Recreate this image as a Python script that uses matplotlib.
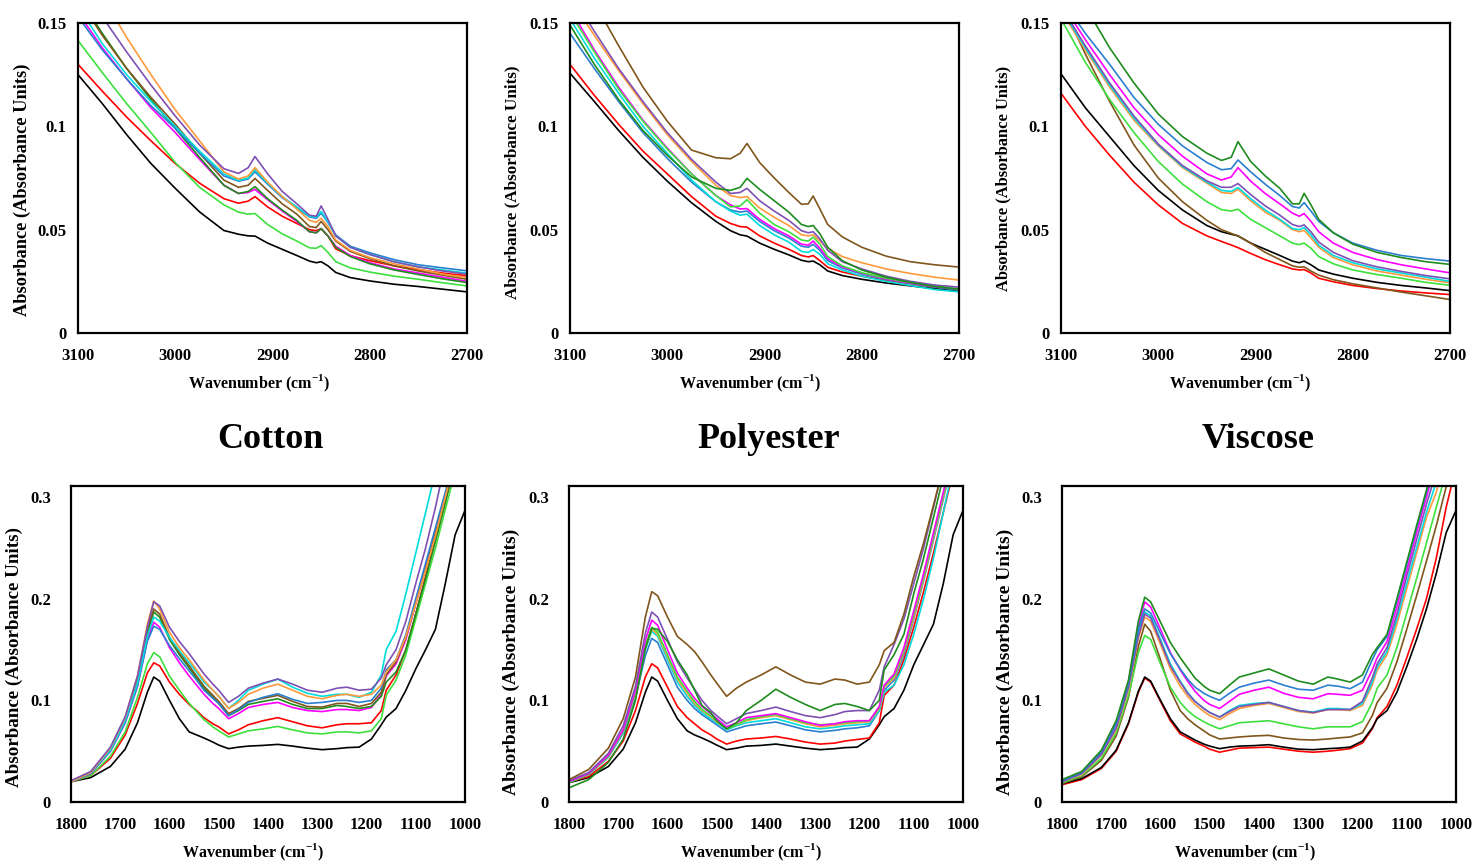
import matplotlib
matplotlib.use('Agg')
import matplotlib.pyplot as plt

plt.rcParams['font.family'] = ['Liberation Serif', 'DejaVu Serif']
plt.rcParams['font.weight'] = 'bold'
plt.rcParams['mathtext.fontset'] = 'custom'
plt.rcParams['mathtext.rm'] = 'Liberation Serif:bold'
plt.rcParams['mathtext.bf'] = 'Liberation Serif:bold'

# ---------------- data ----------------
W_TOP = [3100, 3075, 3050, 3025, 3000, 2975, 2950, 2935, 2925, 2918, 2905, 2890,
         2875, 2862, 2855, 2850, 2843, 2835, 2820, 2800, 2775, 2750, 2725, 2700]
W_BOT = [1800, 1760, 1720, 1690, 1665, 1645, 1632, 1620, 1600, 1580, 1560, 1545,
         1530, 1512, 1500, 1480, 1460, 1440, 1410, 1380, 1350, 1320, 1290, 1260,
         1240, 1215, 1190, 1170, 1160, 1140, 1120, 1100, 1080, 1060, 1040, 1020, 1000]

TOP_TICKS = [3100, 3000, 2900, 2800, 2700]
BOT_TICKS = [1800, 1700, 1600, 1500, 1400, 1300, 1200, 1100, 1000]
TOP_YTICKS = [0, 0.05, 0.1, 0.15]
TOP_YLABELS = ['0', '0.05', '0.1', '0.15']
BOT_YTICKS = [0, 0.1, 0.2, 0.3]
BOT_YLABELS = ['0', '0.1', '0.2', '0.3']
TITLES = ['Cotton', 'Polyester', 'Viscose']

COLORS = {'black': '#000000', 'red': '#ff0000', 'lime': '#3ee03e', 'dkgreen': '#1e8c1e',
          'orange': '#ff9a3c', 'blue': '#2b7fd0', 'purple': '#7e50b4', 'magenta': '#ff00ff',
          'cyan': '#00dcdc', 'brown': '#80561c'}

# Cotton, 3100-2700
ct_black = [0.125, 0.111, 0.096, 0.082, 0.070, 0.0586, 0.0496, 0.0478, 0.0470, 0.0469, 0.0435, 0.0405, 0.0375, 0.0348, 0.0340, 0.0345, 0.0325, 0.0293, 0.0268, 0.0252, 0.0236, 0.0225, 0.0212, 0.0199]
ct_red = [0.130, 0.117, 0.1045, 0.093, 0.082, 0.0725, 0.065, 0.0628, 0.0638, 0.0660, 0.061, 0.0565, 0.053, 0.050, 0.0495, 0.0505, 0.047, 0.0407, 0.0374, 0.035, 0.0325, 0.0306, 0.029, 0.0277]
ct_lime = [0.1415, 0.126, 0.111, 0.097, 0.0825, 0.0705, 0.062, 0.0585, 0.0575, 0.0578, 0.0525, 0.048, 0.0445, 0.0412, 0.0410, 0.0423, 0.039, 0.0345, 0.0315, 0.0295, 0.0275, 0.026, 0.0243, 0.0228]
ct_purple = [0.172, 0.153, 0.136, 0.120, 0.105, 0.091, 0.0795, 0.0772, 0.0800, 0.0854, 0.077, 0.0685, 0.0625, 0.057, 0.0565, 0.0615, 0.055, 0.047, 0.0415, 0.038, 0.0345, 0.032, 0.030, 0.0285]
ct_orange = [0.185, 0.163, 0.143, 0.125, 0.108, 0.093, 0.078, 0.0745, 0.076, 0.080, 0.073, 0.066, 0.060, 0.0545, 0.0535, 0.0555, 0.0515, 0.045, 0.040, 0.0365, 0.0335, 0.031, 0.0285, 0.0268]
ct_cyan = [0.158, 0.140, 0.125, 0.112, 0.100, 0.088, 0.077, 0.0738, 0.075, 0.079, 0.0725, 0.066, 0.061, 0.0565, 0.0560, 0.0588, 0.054, 0.047, 0.0415, 0.038, 0.0345, 0.0320, 0.0305, 0.029]
ct_blue = [0.153, 0.137, 0.123, 0.110, 0.099, 0.087, 0.076, 0.0735, 0.0745, 0.078, 0.072, 0.0655, 0.0605, 0.0562, 0.0555, 0.058, 0.0535, 0.0475, 0.042, 0.0388, 0.0355, 0.033, 0.0315, 0.0301]
ct_brown = [0.162, 0.144, 0.128, 0.114, 0.101, 0.087, 0.074, 0.0705, 0.0715, 0.0748, 0.069, 0.0625, 0.0575, 0.0515, 0.0510, 0.0540, 0.050, 0.0445, 0.0395, 0.036, 0.0325, 0.030, 0.028, 0.026]
ct_dkgreen = [0.163, 0.145, 0.128, 0.113, 0.099, 0.085, 0.0715, 0.0675, 0.0685, 0.0708, 0.065, 0.0595, 0.0545, 0.049, 0.0485, 0.0505, 0.047, 0.0415, 0.037, 0.0335, 0.0305, 0.0283, 0.0262, 0.0244]
ct_magenta = [0.155, 0.138, 0.123, 0.109, 0.097, 0.084, 0.0715, 0.0675, 0.068, 0.0695, 0.0645, 0.059, 0.054, 0.049, 0.0485, 0.0505, 0.047, 0.042, 0.0375, 0.034, 0.031, 0.029, 0.027, 0.025]

# Polyester, 3100-2700
pt_black = [0.1257, 0.112, 0.098, 0.085, 0.0735, 0.063, 0.054, 0.0495, 0.0475, 0.0469, 0.0435, 0.0405, 0.0378, 0.0352, 0.0345, 0.0348, 0.033, 0.030, 0.0278, 0.026, 0.0242, 0.0228, 0.0215, 0.0202]
pt_red = [0.130, 0.115, 0.101, 0.088, 0.077, 0.066, 0.0565, 0.0530, 0.0515, 0.0512, 0.0470, 0.0435, 0.0405, 0.0375, 0.0368, 0.0375, 0.035, 0.0318, 0.0295, 0.0275, 0.0255, 0.0238, 0.0222, 0.021]
pt_blue = [0.145, 0.128, 0.112, 0.097, 0.0845, 0.073, 0.0635, 0.0595, 0.0585, 0.059, 0.054, 0.0495, 0.046, 0.042, 0.0415, 0.0429, 0.040, 0.035, 0.0315, 0.0285, 0.026, 0.024, 0.0222, 0.0208]
pt_cyan = [0.152, 0.133, 0.116, 0.100, 0.087, 0.074, 0.0635, 0.059, 0.057, 0.0575, 0.052, 0.0475, 0.044, 0.0395, 0.039, 0.0404, 0.038, 0.0335, 0.0305, 0.0275, 0.025, 0.023, 0.021, 0.0199]
pt_magenta = [0.157, 0.137, 0.119, 0.103, 0.0895, 0.077, 0.0665, 0.062, 0.060, 0.0602, 0.055, 0.0505, 0.047, 0.043, 0.0425, 0.0445, 0.041, 0.036, 0.032, 0.029, 0.0262, 0.0242, 0.0225, 0.0213]
pt_lime = [0.155, 0.136, 0.118, 0.1025, 0.089, 0.077, 0.0665, 0.061, 0.0615, 0.0645, 0.058, 0.0525, 0.049, 0.045, 0.0445, 0.0464, 0.043, 0.037, 0.0325, 0.0292, 0.0265, 0.0245, 0.0228, 0.0213]
pt_dkgreen = [0.149, 0.130, 0.113, 0.098, 0.086, 0.0755, 0.0700, 0.0690, 0.0705, 0.0748, 0.0695, 0.064, 0.0585, 0.0525, 0.0515, 0.0520, 0.048, 0.0415, 0.035, 0.0305, 0.027, 0.0245, 0.0225, 0.0212]
pt_purple = [0.165, 0.146, 0.128, 0.112, 0.097, 0.084, 0.073, 0.0675, 0.068, 0.070, 0.064, 0.059, 0.0545, 0.0495, 0.0485, 0.049, 0.0455, 0.040, 0.0345, 0.031, 0.0275, 0.025, 0.0232, 0.0222]
pt_orange = [0.162, 0.144, 0.127, 0.111, 0.096, 0.083, 0.0715, 0.0665, 0.0655, 0.0660, 0.0605, 0.056, 0.052, 0.0475, 0.047, 0.0475, 0.0445, 0.041, 0.037, 0.034, 0.031, 0.0288, 0.027, 0.0256]
pt_brown = [0.185, 0.160, 0.139, 0.119, 0.1025, 0.0885, 0.0848, 0.0843, 0.087, 0.0917, 0.0825, 0.075, 0.068, 0.0623, 0.0625, 0.0663, 0.060, 0.0525, 0.0465, 0.0415, 0.0372, 0.0345, 0.033, 0.0319]

# Viscose, 3100-2700
vt_red = [0.116, 0.100, 0.086, 0.073, 0.062, 0.053, 0.0470, 0.0443, 0.0426, 0.0413, 0.0385, 0.0355, 0.0330, 0.0310, 0.0305, 0.0307, 0.0290, 0.0265, 0.0248, 0.0230, 0.0215, 0.0203, 0.0194, 0.0186]
vt_black = [0.1254, 0.109, 0.095, 0.081, 0.069, 0.0595, 0.052, 0.049, 0.0478, 0.0470, 0.0435, 0.0405, 0.0375, 0.0348, 0.0340, 0.0348, 0.033, 0.0305, 0.0285, 0.0265, 0.0245, 0.0230, 0.0218, 0.0205]
vt_brown = [0.160, 0.135, 0.112, 0.091, 0.075, 0.0635, 0.0545, 0.050, 0.0482, 0.0470, 0.0435, 0.039, 0.0355, 0.0325, 0.0318, 0.0320, 0.030, 0.028, 0.0258, 0.0238, 0.0218, 0.0198, 0.0180, 0.0162]
vt_lime = [0.152, 0.131, 0.113, 0.097, 0.083, 0.072, 0.0635, 0.0597, 0.059, 0.0599, 0.055, 0.051, 0.047, 0.0435, 0.0428, 0.0435, 0.041, 0.037, 0.0335, 0.0305, 0.0283, 0.0265, 0.0245, 0.0231]
vt_orange = [0.156, 0.137, 0.119, 0.103, 0.0905, 0.080, 0.0725, 0.068, 0.0675, 0.0696, 0.064, 0.0585, 0.0545, 0.0500, 0.049, 0.0497, 0.046, 0.0415, 0.0365, 0.033, 0.030, 0.028, 0.026, 0.0243]
vt_cyan = [0.157, 0.138, 0.120, 0.104, 0.091, 0.0805, 0.0730, 0.069, 0.0685, 0.0704, 0.065, 0.0595, 0.055, 0.0505, 0.050, 0.0510, 0.0475, 0.0425, 0.0375, 0.034, 0.031, 0.029, 0.027, 0.025]
vt_purple = [0.158, 0.139, 0.121, 0.105, 0.0914, 0.081, 0.0736, 0.0705, 0.0705, 0.0723, 0.067, 0.0615, 0.057, 0.0525, 0.0515, 0.0523, 0.049, 0.044, 0.039, 0.035, 0.032, 0.0298, 0.0278, 0.0262]
vt_magenta = [0.160, 0.142, 0.125, 0.109, 0.096, 0.0855, 0.077, 0.074, 0.0755, 0.080, 0.0735, 0.0675, 0.0625, 0.058, 0.0565, 0.0578, 0.054, 0.049, 0.0435, 0.039, 0.0355, 0.033, 0.031, 0.0291]
vt_blue = [0.162, 0.145, 0.130, 0.114, 0.101, 0.0905, 0.0825, 0.079, 0.0795, 0.0837, 0.078, 0.072, 0.0665, 0.0612, 0.0605, 0.0631, 0.059, 0.054, 0.0485, 0.0435, 0.040, 0.0375, 0.036, 0.0348]
vt_dkgreen = [0.183, 0.158, 0.138, 0.121, 0.106, 0.095, 0.087, 0.0835, 0.085, 0.0926, 0.083, 0.076, 0.070, 0.0625, 0.0625, 0.0676, 0.062, 0.055, 0.0485, 0.043, 0.039, 0.0365, 0.0345, 0.0332]

# Cotton, 1800-1000
cb_black = [0.020, 0.024, 0.035, 0.052, 0.078, 0.108, 0.123, 0.119, 0.100, 0.082, 0.069, 0.066, 0.063, 0.059, 0.056, 0.0525, 0.054, 0.055, 0.0557, 0.0567, 0.055, 0.053, 0.0515, 0.0525, 0.0535, 0.054, 0.062, 0.076, 0.0835, 0.092, 0.110, 0.131, 0.150, 0.170, 0.215, 0.263, 0.287]
cb_red = [0.020, 0.026, 0.043, 0.066, 0.097, 0.127, 0.137, 0.134, 0.118, 0.106, 0.096, 0.090, 0.083, 0.077, 0.074, 0.067, 0.071, 0.076, 0.080, 0.083, 0.079, 0.075, 0.073, 0.076, 0.077, 0.077, 0.078, 0.090, 0.110, 0.125, 0.150, 0.185, 0.222, 0.258, 0.295, 0.335, 0.37]
cb_lime = [0.020, 0.026, 0.045, 0.069, 0.103, 0.136, 0.147, 0.143, 0.124, 0.110, 0.097, 0.089, 0.081, 0.074, 0.070, 0.064, 0.067, 0.070, 0.072, 0.0744, 0.071, 0.068, 0.067, 0.069, 0.069, 0.068, 0.070, 0.082, 0.105, 0.120, 0.145, 0.180, 0.215, 0.250, 0.288, 0.325, 0.36]
cb_purple = [0.021, 0.030, 0.054, 0.084, 0.124, 0.172, 0.197, 0.193, 0.172, 0.158, 0.146, 0.136, 0.126, 0.116, 0.110, 0.098, 0.104, 0.112, 0.117, 0.121, 0.116, 0.110, 0.108, 0.112, 0.113, 0.110, 0.111, 0.122, 0.135, 0.150, 0.178, 0.215, 0.250, 0.290, 0.335, 0.37, 0.40]
cb_orange = [0.020, 0.029, 0.053, 0.083, 0.124, 0.175, 0.198, 0.190, 0.167, 0.152, 0.140, 0.130, 0.120, 0.110, 0.104, 0.092, 0.098, 0.106, 0.112, 0.116, 0.110, 0.104, 0.1016, 0.105, 0.106, 0.104, 0.106, 0.115, 0.128, 0.140, 0.163, 0.195, 0.228, 0.262, 0.300, 0.34, 0.37]
cb_cyan = [0.020, 0.029, 0.051, 0.080, 0.117, 0.163, 0.182, 0.178, 0.162, 0.149, 0.137, 0.128, 0.118, 0.110, 0.104, 0.092, 0.100, 0.110, 0.116, 0.121, 0.113, 0.107, 0.104, 0.106, 0.106, 0.103, 0.108, 0.125, 0.150, 0.168, 0.205, 0.245, 0.285, 0.325, 0.36, 0.40, 0.44]
cb_blue = [0.020, 0.028, 0.050, 0.078, 0.114, 0.158, 0.173, 0.170, 0.154, 0.141, 0.129, 0.120, 0.110, 0.102, 0.097, 0.085, 0.091, 0.098, 0.103, 0.1066, 0.101, 0.097, 0.098, 0.100, 0.100, 0.098, 0.100, 0.112, 0.130, 0.140, 0.165, 0.200, 0.235, 0.270, 0.305, 0.34, 0.37]
cb_brown = [0.020, 0.029, 0.052, 0.081, 0.120, 0.170, 0.190, 0.185, 0.162, 0.147, 0.134, 0.124, 0.114, 0.105, 0.099, 0.087, 0.092, 0.099, 0.102, 0.105, 0.099, 0.094, 0.0934, 0.097, 0.097, 0.094, 0.097, 0.108, 0.125, 0.138, 0.162, 0.196, 0.230, 0.265, 0.300, 0.335, 0.37]
cb_dkgreen = [0.020, 0.029, 0.051, 0.080, 0.118, 0.166, 0.187, 0.182, 0.160, 0.145, 0.132, 0.122, 0.112, 0.103, 0.097, 0.085, 0.090, 0.096, 0.099, 0.1016, 0.096, 0.092, 0.092, 0.095, 0.094, 0.092, 0.094, 0.104, 0.118, 0.128, 0.150, 0.185, 0.220, 0.257, 0.295, 0.335, 0.37]
cb_magenta = [0.020, 0.028, 0.050, 0.078, 0.114, 0.160, 0.177, 0.172, 0.152, 0.137, 0.124, 0.115, 0.106, 0.097, 0.092, 0.082, 0.087, 0.093, 0.096, 0.098, 0.093, 0.090, 0.089, 0.091, 0.091, 0.090, 0.093, 0.106, 0.124, 0.136, 0.160, 0.195, 0.230, 0.265, 0.300, 0.335, 0.37]

# Polyester, 1800-1000
pb_black = [0.019, 0.024, 0.035, 0.052, 0.078, 0.108, 0.123, 0.119, 0.100, 0.082, 0.070, 0.066, 0.063, 0.059, 0.056, 0.0515, 0.053, 0.055, 0.0557, 0.057, 0.055, 0.053, 0.0515, 0.0525, 0.0535, 0.054, 0.062, 0.076, 0.084, 0.092, 0.110, 0.135, 0.155, 0.175, 0.215, 0.263, 0.287]
pb_red = [0.020, 0.025, 0.040, 0.060, 0.090, 0.123, 0.136, 0.132, 0.113, 0.094, 0.083, 0.077, 0.071, 0.066, 0.062, 0.057, 0.060, 0.062, 0.063, 0.0645, 0.062, 0.059, 0.057, 0.058, 0.060, 0.0615, 0.063, 0.078, 0.105, 0.115, 0.140, 0.172, 0.207, 0.245, 0.285, 0.325, 0.36]
pb_blue = [0.020, 0.027, 0.044, 0.068, 0.103, 0.144, 0.161, 0.157, 0.135, 0.113, 0.100, 0.092, 0.086, 0.080, 0.076, 0.069, 0.072, 0.075, 0.077, 0.0787, 0.075, 0.071, 0.069, 0.0705, 0.072, 0.073, 0.075, 0.090, 0.110, 0.120, 0.145, 0.180, 0.218, 0.258, 0.298, 0.34, 0.38]
pb_cyan = [0.020, 0.027, 0.045, 0.069, 0.106, 0.150, 0.168, 0.163, 0.140, 0.118, 0.104, 0.095, 0.088, 0.082, 0.078, 0.071, 0.075, 0.078, 0.080, 0.082, 0.078, 0.074, 0.072, 0.0735, 0.075, 0.076, 0.077, 0.090, 0.108, 0.115, 0.135, 0.165, 0.200, 0.240, 0.285, 0.33, 0.37]
pb_orange = [0.020, 0.027, 0.045, 0.070, 0.107, 0.152, 0.170, 0.165, 0.143, 0.121, 0.107, 0.097, 0.090, 0.084, 0.079, 0.072, 0.076, 0.080, 0.083, 0.085, 0.081, 0.077, 0.074, 0.0755, 0.077, 0.078, 0.079, 0.092, 0.113, 0.122, 0.148, 0.182, 0.220, 0.260, 0.300, 0.34, 0.38]
pb_lime = [0.019, 0.027, 0.045, 0.070, 0.108, 0.154, 0.172, 0.167, 0.145, 0.123, 0.109, 0.099, 0.091, 0.085, 0.080, 0.072, 0.076, 0.081, 0.084, 0.086, 0.082, 0.078, 0.076, 0.077, 0.078, 0.079, 0.080, 0.093, 0.114, 0.124, 0.150, 0.185, 0.222, 0.262, 0.302, 0.34, 0.38]
pb_magenta = [0.020, 0.028, 0.046, 0.071, 0.110, 0.159, 0.179, 0.174, 0.150, 0.127, 0.112, 0.102, 0.094, 0.087, 0.082, 0.074, 0.078, 0.083, 0.085, 0.087, 0.083, 0.079, 0.0754, 0.077, 0.079, 0.080, 0.080, 0.094, 0.115, 0.126, 0.152, 0.188, 0.225, 0.265, 0.305, 0.345, 0.38]
pb_dkgreen = [0.014, 0.022, 0.039, 0.062, 0.100, 0.151, 0.171, 0.170, 0.158, 0.140, 0.125, 0.110, 0.095, 0.088, 0.080, 0.072, 0.078, 0.090, 0.100, 0.111, 0.103, 0.096, 0.090, 0.096, 0.097, 0.094, 0.090, 0.100, 0.130, 0.145, 0.165, 0.205, 0.240, 0.280, 0.32, 0.36, 0.40]
pb_purple = [0.021, 0.029, 0.048, 0.075, 0.114, 0.166, 0.187, 0.182, 0.160, 0.138, 0.122, 0.111, 0.100, 0.090, 0.085, 0.077, 0.082, 0.087, 0.090, 0.0934, 0.089, 0.085, 0.083, 0.086, 0.089, 0.090, 0.090, 0.110, 0.133, 0.155, 0.180, 0.215, 0.250, 0.290, 0.33, 0.37, 0.41]
pb_brown = [0.022, 0.032, 0.053, 0.082, 0.123, 0.182, 0.207, 0.203, 0.182, 0.163, 0.155, 0.148, 0.138, 0.125, 0.117, 0.104, 0.112, 0.118, 0.125, 0.133, 0.125, 0.118, 0.116, 0.121, 0.120, 0.116, 0.118, 0.135, 0.149, 0.157, 0.185, 0.222, 0.255, 0.292, 0.33, 0.37, 0.41]

# Viscose, 1800-1000
vb_black = [0.018, 0.023, 0.034, 0.051, 0.078, 0.109, 0.123, 0.119, 0.100, 0.082, 0.069, 0.065, 0.061, 0.057, 0.055, 0.0525, 0.054, 0.055, 0.0555, 0.0564, 0.054, 0.052, 0.0515, 0.0525, 0.053, 0.054, 0.060, 0.073, 0.082, 0.090, 0.108, 0.133, 0.160, 0.190, 0.225, 0.265, 0.287]
vb_red = [0.017, 0.022, 0.033, 0.050, 0.077, 0.108, 0.122, 0.118, 0.099, 0.080, 0.067, 0.063, 0.059, 0.055, 0.052, 0.049, 0.051, 0.053, 0.0535, 0.054, 0.052, 0.050, 0.049, 0.050, 0.051, 0.0525, 0.058, 0.072, 0.083, 0.094, 0.115, 0.142, 0.170, 0.200, 0.240, 0.290, 0.33]
vb_brown = [0.018, 0.025, 0.041, 0.065, 0.103, 0.153, 0.175, 0.168, 0.140, 0.110, 0.090, 0.082, 0.076, 0.070, 0.066, 0.062, 0.063, 0.064, 0.065, 0.0656, 0.063, 0.0615, 0.061, 0.062, 0.063, 0.064, 0.068, 0.085, 0.098, 0.112, 0.138, 0.170, 0.203, 0.237, 0.272, 0.31, 0.34]
vb_lime = [0.019, 0.026, 0.043, 0.068, 0.105, 0.147, 0.164, 0.160, 0.136, 0.113, 0.098, 0.090, 0.084, 0.079, 0.076, 0.072, 0.075, 0.078, 0.079, 0.080, 0.077, 0.074, 0.072, 0.074, 0.074, 0.074, 0.079, 0.098, 0.112, 0.125, 0.152, 0.186, 0.220, 0.255, 0.29, 0.325, 0.36]
vb_orange = [0.020, 0.027, 0.046, 0.071, 0.110, 0.161, 0.182, 0.178, 0.155, 0.131, 0.114, 0.104, 0.096, 0.089, 0.085, 0.081, 0.087, 0.092, 0.095, 0.097, 0.093, 0.089, 0.0875, 0.091, 0.091, 0.090, 0.095, 0.115, 0.130, 0.145, 0.175, 0.210, 0.245, 0.280, 0.305, 0.345, 0.38]
vb_cyan = [0.020, 0.028, 0.047, 0.073, 0.113, 0.165, 0.187, 0.183, 0.160, 0.136, 0.119, 0.108, 0.099, 0.092, 0.088, 0.0836, 0.090, 0.095, 0.097, 0.098, 0.094, 0.090, 0.0885, 0.092, 0.092, 0.091, 0.097, 0.118, 0.133, 0.148, 0.180, 0.215, 0.250, 0.285, 0.315, 0.35, 0.39]
vb_purple = [0.020, 0.028, 0.047, 0.073, 0.113, 0.163, 0.185, 0.181, 0.158, 0.134, 0.118, 0.107, 0.099, 0.092, 0.088, 0.0836, 0.089, 0.094, 0.096, 0.098, 0.094, 0.090, 0.088, 0.091, 0.091, 0.091, 0.099, 0.122, 0.136, 0.152, 0.185, 0.222, 0.258, 0.293, 0.325, 0.36, 0.40]
vb_magenta = [0.021, 0.029, 0.049, 0.077, 0.118, 0.173, 0.197, 0.192, 0.170, 0.147, 0.130, 0.119, 0.109, 0.100, 0.096, 0.092, 0.099, 0.106, 0.110, 0.113, 0.107, 0.103, 0.1016, 0.1066, 0.106, 0.105, 0.110, 0.130, 0.142, 0.158, 0.192, 0.228, 0.265, 0.300, 0.335, 0.37, 0.41]
vb_blue = [0.021, 0.029, 0.049, 0.077, 0.117, 0.170, 0.190, 0.186, 0.166, 0.146, 0.131, 0.121, 0.113, 0.107, 0.104, 0.100, 0.107, 0.113, 0.117, 0.120, 0.115, 0.111, 0.110, 0.115, 0.114, 0.1115, 0.118, 0.140, 0.150, 0.163, 0.198, 0.234, 0.270, 0.305, 0.34, 0.38, 0.42]
vb_dkgreen = [0.022, 0.030, 0.051, 0.080, 0.120, 0.178, 0.2016, 0.197, 0.177, 0.157, 0.142, 0.132, 0.122, 0.114, 0.110, 0.1066, 0.115, 0.123, 0.127, 0.131, 0.125, 0.119, 0.116, 0.123, 0.121, 0.118, 0.125, 0.145, 0.152, 0.165, 0.200, 0.236, 0.272, 0.307, 0.345, 0.385, 0.42]

PANELS_TOP = [
    [('black', ct_black), ('red', ct_red), ('lime', ct_lime), ('magenta', ct_magenta),
     ('dkgreen', ct_dkgreen), ('brown', ct_brown), ('blue', ct_blue), ('cyan', ct_cyan),
     ('orange', ct_orange), ('purple', ct_purple)],
    [('black', pt_black), ('red', pt_red), ('blue', pt_blue), ('cyan', pt_cyan),
     ('magenta', pt_magenta), ('lime', pt_lime), ('orange', pt_orange), ('purple', pt_purple),
     ('dkgreen', pt_dkgreen), ('brown', pt_brown)],
    [('red', vt_red), ('black', vt_black), ('brown', vt_brown), ('lime', vt_lime),
     ('orange', vt_orange), ('cyan', vt_cyan), ('purple', vt_purple), ('magenta', vt_magenta),
     ('blue', vt_blue), ('dkgreen', vt_dkgreen)],
]
PANELS_BOT = [
    [('black', cb_black), ('red', cb_red), ('lime', cb_lime), ('magenta', cb_magenta),
     ('dkgreen', cb_dkgreen), ('brown', cb_brown), ('blue', cb_blue), ('cyan', cb_cyan),
     ('orange', cb_orange), ('purple', cb_purple)],
    [('black', pb_black), ('red', pb_red), ('blue', pb_blue), ('cyan', pb_cyan),
     ('orange', pb_orange), ('lime', pb_lime), ('magenta', pb_magenta), ('purple', pb_purple),
     ('dkgreen', pb_dkgreen), ('brown', pb_brown)],
    [('red', vb_red), ('black', vb_black), ('brown', vb_brown), ('lime', vb_lime),
     ('orange', vb_orange), ('cyan', vb_cyan), ('purple', vb_purple), ('magenta', vb_magenta),
     ('blue', vb_blue), ('dkgreen', vb_dkgreen)],
]

# ---------------- layout ----------------
FW, FH = 1475, 863
fig = plt.figure(figsize=(FW / 100, FH / 100), dpi=100)


def px_axes(x0, y0, x1, y1):
    return fig.add_axes([x0 / FW, 1 - y1 / FH, (x1 - x0) / FW, (y1 - y0) / FH])


TOP_BOX = [(78, 23, 467, 333), (570, 23, 959, 333), (1061, 23, 1450, 333)]
BOT_BOX = [(71, 486, 465, 802), (569, 486, 963, 802), (1062, 486, 1456, 802)]
TOP_YLAB = [(22, 190, 13.2), (512, 182, 12.3), (1003, 178, 11.9)]
BOT_YLAB = [(14, 657, 13.7), (511, 662, 14.0), (1005, 662, 14.0)]
TOP_XLAB = [259, 750, 1240]
BOT_XLAB = [253, 751, 1245]
TITLE_X = [270, 769, 1258]

XLAB = r'Wavenumber (cm$^{-1}$)'
YLAB = 'Absorbance (Absorbance Units)'


def style(ax, xlim, ylim, xt, yt, ylabels, ypad):
    ax.set_xlim(*xlim)
    ax.set_ylim(*ylim)
    ax.set_xticks(xt)
    ax.set_xticklabels([str(v) for v in xt])
    ax.set_yticks(yt)
    ax.set_yticklabels(ylabels)
    ax.tick_params(axis='x', length=0, pad=11, labelsize=12)
    ax.tick_params(axis='y', length=0, pad=ypad, labelsize=12)
    for lab in ax.get_xticklabels() + ax.get_yticklabels():
        lab.set_fontweight('bold')
    for s in ax.spines.values():
        s.set_linewidth(1.6)
        s.set_color('black')


for i in range(3):
    ax = px_axes(*TOP_BOX[i])
    for cname, vals in PANELS_TOP[i]:
        ax.plot(W_TOP, vals, color=COLORS[cname], lw=1.2, solid_joinstyle='round')
    style(ax, (3100, 2700), (0, 0.15), TOP_TICKS, TOP_YTICKS, TOP_YLABELS, 8.5)
    x, y, fs = TOP_YLAB[i]
    fig.text(x / FW, 1 - y / FH, YLAB, rotation=90, ha='center', va='center',
             fontsize=fs, fontweight='bold')
    fig.text(TOP_XLAB[i] / FW, 1 - 388 / FH, XLAB, ha='center', va='baseline',
             fontsize=11.5, fontweight='bold')

    ax = px_axes(*BOT_BOX[i])
    for cname, vals in PANELS_BOT[i]:
        ax.plot(W_BOT, vals, color=COLORS[cname], lw=1.2, solid_joinstyle='round')
    style(ax, (1800, 1000), (0, 0.311), BOT_TICKS, BOT_YTICKS, BOT_YLABELS, 14.5)
    x, y, fs = BOT_YLAB[i]
    fig.text(x / FW, 1 - y / FH, YLAB, rotation=90, ha='center', va='center',
             fontsize=fs, fontweight='bold')
    fig.text(BOT_XLAB[i] / FW, 1 - 857 / FH, XLAB, ha='center', va='baseline',
             fontsize=11.5, fontweight='bold')

    fig.text(TITLE_X[i] / FW, 1 - 448 / FH, TITLES[i], ha='center', va='baseline',
             fontsize=26, fontweight='bold')

fig.savefig('out.png', dpi=100)
